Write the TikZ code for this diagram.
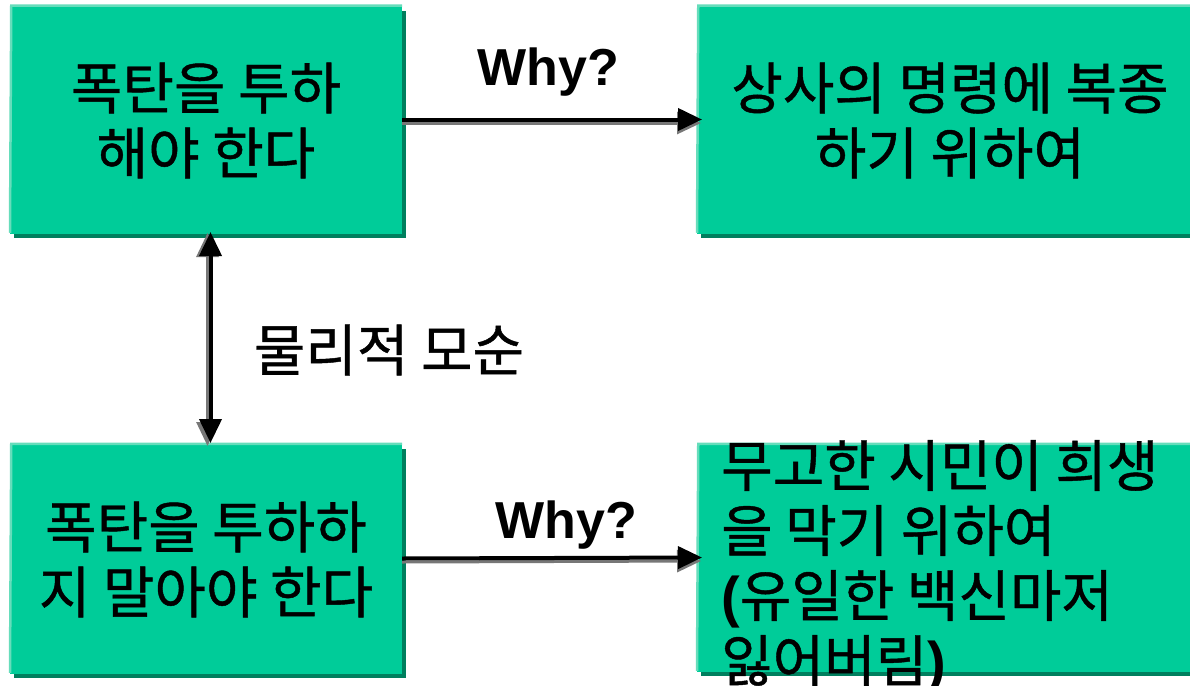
\documentclass[tikz,border=0pt]{standalone}
\usepackage{fontspec}
\setmainfont{Liberation Sans}
\newfontfamily\kr{Noto Sans CJK KR}[FakeBold=0.8]
\usetikzlibrary{arrows.meta,shadows}
\definecolor{boxgreen}{HTML}{00CC99}
\definecolor{shadowgreen}{HTML}{007F5E}
\definecolor{hlgreen}{HTML}{66DDBB}
\definecolor{arrgray}{HTML}{777777}
\begin{document}
\begin{tikzpicture}[x=1pt,y=-1pt,
  box/.style={fill=boxgreen, inner sep=0pt, outer sep=0pt,
    drop shadow={shadow xshift=4pt, shadow yshift=-4pt, fill=shadowgreen, opacity=1},
    align=center, font={\kr\fontsize{56}{65}\selectfont}},
  boxtext/.style={inner sep=0pt, align=left, font={\kr\fontsize{56}{65}\selectfont}},
  why/.style={inner sep=0pt, font={\fontsize{52}{60}\selectfont\bfseries}},
  lbl/.style={inner sep=0pt, font={\kr\fontsize{56}{60}\selectfont}},
  hl/.style={draw=hlgreen, line width=2.5pt},
  arrblack/.style={draw=black, line width=4pt},
  arrshade/.style={draw=arrgray, line width=3pt},
  tipb/.style={-{Triangle[length=24pt,width=22pt]}},
  tipbb/.style={{Triangle[length=24pt,width=22pt]}-{Triangle[length=24pt,width=22pt]}}
]
\useasboundingbox (0,0) rectangle (1190,685);
\fill[white] (0,0) rectangle (1190,685);

\node[box, minimum width=392pt, minimum height=227pt, anchor=north west] (tl) at (10,7) {폭탄을 투하\\해야 한다};
\node[box, minimum width=506pt, minimum height=227pt, anchor=north west] (tr) at (697,7) {상사의 명령에 복종\\하기 위하여};
\node[box, minimum width=392pt, minimum height=229pt, anchor=north west] (bl) at (10,445) {폭탄을 투하하\\지 말아야 한다};
\node[box, minimum width=506pt, minimum height=227pt, anchor=north west] (br) at (697,445) {};

\foreach \n in {tl,tr,bl,br}{
  \draw[hl] ([yshift=1.25pt]\n.south west) -- ([xshift=1.25pt,yshift=1.25pt]\n.north west) -- ([yshift=1.25pt]\n.north east);
}

\node[boxtext, anchor=north west] (brtext) at (721,440) {무고한 시민이 희생\\을 막기 위하여\\{\normalfont\bfseries(}유일한 백신마저\\잃어버림{\normalfont\bfseries)}};

\node[why, anchor=base] (why1) at (548,85) {Why?};
\node[why, anchor=base] (why2) at (566,538) {Why?};
\node[lbl] (contra) at (389,350) {물리적 모순};

% top arrow
\draw[arrshade, tipb] ([yshift=-2.5pt]tl.east) -- ([xshift=4pt,yshift=-2.5pt]tr.west);
\draw[arrblack, tipb] ([yshift=1pt]tl.east) -- ([xshift=5pt,yshift=1pt]tr.west);
% bottom arrow
\draw[arrshade, tipb] ([yshift=-2.5pt]bl.east) -- ([xshift=4pt,yshift=-2.5pt]br.west);
\draw[arrblack, tipb] ([yshift=1pt]bl.east) -- ([xshift=5pt,yshift=1pt]br.west);
% vertical double arrow
\draw[arrshade, tipbb] ([xshift=1.5pt,yshift=1pt]tl.south) -- ([xshift=1.5pt,yshift=-1pt]bl.north);
\draw[arrblack, tipbb] ([xshift=4.5pt,yshift=2pt]tl.south) -- ([xshift=4.5pt,yshift=2pt]bl.north);
\end{tikzpicture}
\end{document}
